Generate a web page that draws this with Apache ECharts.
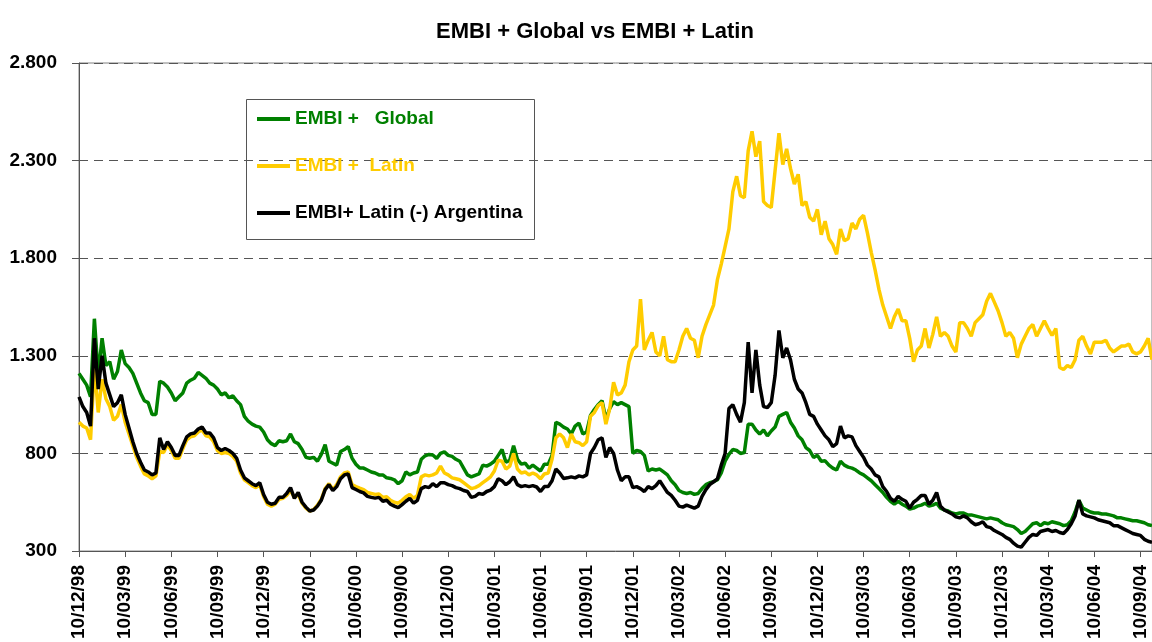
<!DOCTYPE html>
<html>
<head>
<meta charset="utf-8">
<script src="https://cdn.jsdelivr.net/npm/echarts@6/dist/echarts.min.js"></script>
<style>
  html, body { margin: 0; padding: 0; background: #fff; }
  #chart { width: 1152px; height: 642px; }
</style>
</head>
<body>
<div id="chart"></div>
<script>
// quarterly tick labels on the x axis
const tickLabels = [
  '10/12/98', '10/03/99', '10/06/99', '10/09/99', '10/12/99', '10/03/00',
  '10/06/00', '10/09/00', '10/12/00', '10/03/01', '10/06/01', '10/09/01',
  '10/12/01', '10/03/02', '10/06/02', '10/09/02', '10/12/02', '10/03/03',
  '10/06/03', '10/09/03', '10/12/03', '10/03/04', '10/06/04', '10/09/04'
]

// weekly observations: 12 per quarter, last quarter runs 4 weeks past 10/09/04
const categories = []
for (let q = 0; q < tickLabels.length; q++) {
  const weeks = q === tickLabels.length - 1 ? 4 : 12
  for (let w = 0; w < weeks; w++) {
    categories.push(w === 0 ? tickLabels[q] : tickLabels[q] + ' +' + w + 'w')
  }
}

const globalSpread = [
  1210, 1180, 1150, 1090, 1490, 1200, 1390, 1250, 1270, 1180,
  1220, 1330, 1260, 1240, 1210, 1160, 1110, 1070, 1060, 1000,
  1000, 1170, 1160, 1140, 1110, 1070, 1090, 1110, 1160, 1175,
  1185, 1215, 1200, 1185, 1160, 1150, 1130, 1100, 1110, 1085,
  1095, 1070, 1050, 990, 965, 950, 940, 935, 910, 870,
  850, 840, 865, 860, 865, 900, 860, 850, 820, 780,
  775, 780, 760, 795, 845, 760, 750, 740, 810, 820,
  835, 775, 745, 725, 725, 715, 705, 700, 690, 690,
  675, 672, 665, 645, 660, 705, 690, 700, 705, 770,
  788, 795, 792, 775, 800, 808, 790, 785, 770, 760,
  725, 690, 680, 688, 695, 740, 735, 745, 760, 790,
  820, 755, 765, 840, 770, 745, 750, 725, 740, 725,
  710, 745, 745, 790, 960, 950, 935, 925, 900, 940,
  955, 900, 910, 995, 1025, 1050, 1070, 975, 1030, 1065,
  1050, 1060, 1050, 1040, 800, 815, 810, 790, 710, 720,
  715, 720, 705, 690, 660, 640, 610, 600, 595, 600,
  590, 595, 620, 640, 650, 655, 665, 700, 760, 795,
  820, 815, 800, 805, 950, 950, 920, 900, 920, 890,
  915, 935, 990, 1000, 1010, 960, 930, 890, 870, 830,
  815, 780, 790, 760, 762, 740, 725, 715, 760, 740,
  730, 725, 715, 700, 690, 675, 660, 640, 620, 600,
  575, 555, 540, 555, 540, 530, 515, 520, 530, 535,
  545, 530, 535, 545, 520, 510, 505, 495, 490, 495,
  495, 485, 485, 480, 475, 470, 465, 470, 465, 460,
  445, 435, 430, 425, 410, 390, 400, 420, 440, 445,
  430, 445, 440, 450, 445, 440, 430, 435, 455, 500,
  560, 520, 510, 500, 495, 495, 490, 490, 485, 480,
  470, 470, 465, 460, 455, 455, 450, 445, 435, 430
]

const latinSpread = [
  960, 940, 930, 870, 1250, 1010, 1180, 1080, 1040, 970,
  990, 1050, 960, 900, 840, 780, 735, 695, 685, 670,
  685, 810, 805, 845, 815, 775, 775, 825, 870, 885,
  890, 910, 920, 890, 885, 860, 815, 800, 805, 800,
  785, 760, 700, 665, 650, 635, 625, 640, 580, 540,
  530, 540, 565, 570, 585, 610, 575, 590, 545, 520,
  505, 512, 535, 565, 620, 645, 615, 640, 680, 700,
  705, 640, 630, 622, 615, 600, 595, 590, 592, 575,
  578, 560, 550, 545, 560, 578, 590, 570, 585, 680,
  690, 685, 690, 700, 735, 700, 690, 675, 670, 665,
  650, 635, 620, 625, 635, 650, 665, 680, 710, 765,
  760, 720, 735, 800, 720, 700, 705, 690, 700, 690,
  670, 695, 700, 770, 880, 900, 880, 830, 900, 860,
  855, 840, 860, 990, 1010, 1045, 1060, 950, 1030, 1165,
  1100, 1110, 1150, 1270, 1330, 1350, 1590, 1330, 1380, 1420,
  1320, 1300, 1400, 1280, 1270, 1270, 1330, 1400, 1440, 1390,
  1380, 1290, 1400, 1460, 1510, 1560, 1690, 1770, 1860, 1950,
  2140, 2220, 2120, 2110, 2350, 2450, 2320, 2400, 2090, 2070,
  2060, 2250, 2440, 2280, 2360, 2260, 2180, 2230, 2070, 2090,
  2010, 1990, 2050, 1920, 1990, 1900, 1870, 1820, 1950, 1890,
  1900, 1980, 1950, 2000, 2020, 1930, 1830, 1740, 1640, 1560,
  1500, 1440, 1500, 1540, 1480, 1480, 1390, 1270, 1330, 1350,
  1440, 1340, 1410, 1500, 1400, 1420, 1400, 1350, 1320, 1470,
  1470, 1440, 1400, 1470, 1490, 1510, 1580, 1620, 1575, 1530,
  1470, 1400, 1420, 1390, 1290, 1360, 1400, 1440, 1460, 1400,
  1440, 1480, 1440, 1405, 1440, 1240, 1230, 1250, 1240, 1280,
  1380, 1400, 1350, 1310, 1370, 1370, 1370, 1380, 1340, 1320,
  1335, 1350, 1350, 1360, 1320, 1310, 1320, 1350, 1390, 1280
]

const latinExArgSpread = [
  1090, 1040, 1010, 940, 1390, 1130, 1300, 1160, 1100, 1040,
  1060, 1100, 1000, 930, 860, 800, 755, 715, 705, 690,
  700, 880, 820, 860, 830, 790, 790, 840, 885, 900,
  905, 925, 935, 905, 905, 880, 830, 815, 825, 815,
  800, 775, 715, 675, 660, 645, 635, 650, 590, 550,
  540, 545, 575, 575, 595, 625, 570, 600, 550, 525,
  505, 510, 530, 560, 615, 640, 610, 630, 670, 690,
  695, 625, 615, 605, 598, 580, 575, 571, 575, 555,
  560, 540, 530, 522, 538, 555, 570, 545, 560, 620,
  630, 625, 645, 630, 650, 650, 640, 635, 625, 620,
  610, 605, 575, 580, 595, 590, 605, 612, 630, 670,
  660, 640, 655, 680, 640, 630, 635, 630, 635, 628,
  605, 630, 630, 660, 720, 700, 672, 675, 680, 675,
  685, 680, 690, 800, 830, 870, 880, 780, 830, 800,
  715, 660, 680, 680, 625, 630, 620, 605, 630, 620,
  635, 660, 630, 600, 585, 560, 530, 525, 535, 528,
  520, 530, 580, 615, 640, 655, 670, 740, 800, 1030,
  1050, 1000, 960, 1060, 1370, 1110, 1330, 1150, 1040, 1035,
  1060, 1200, 1430, 1290, 1340, 1280, 1180, 1130, 1110, 1060,
  1000, 990, 950, 920, 890, 870, 835, 850, 940, 880,
  890, 885, 840, 810, 780, 740, 720, 690, 680, 630,
  605, 570, 555, 580, 565, 555, 520, 550, 565, 585,
  585, 540, 560, 600, 530, 510, 500, 490, 475, 470,
  480, 470, 450, 435, 440, 450, 425, 420, 405, 395,
  385, 370, 360, 340, 325, 320, 345, 370, 385, 380,
  400, 405, 410, 400, 405, 395, 390, 410, 440, 480,
  560, 490, 480, 475, 470, 460, 455, 450, 445, 430,
  430, 420, 410, 400, 390, 385, 380, 360, 350, 345
]

const FONT = '"Liberation Sans", Arial, sans-serif'

const SERIES = [
  { name: 'EMBI +   Global', data: globalSpread, color: '#008000' },
  { name: 'EMBI +  Latin', data: latinSpread, color: '#FFCC00' },
  { name: 'EMBI+ Latin (-) Argentina', data: latinExArgSpread, color: '#000000' }
]

// 1300 -> "1.300"
function fmtThousands(v) {
  return String(v).replace(/\B(?=(\d{3})+(?!\d))/g, '.')
}

const chart = echarts.init(document.getElementById('chart'))

chart.setOption({
  animation: false,
  backgroundColor: '#fff',
  title: {
    text: 'EMBI + Global vs EMBI + Latin',
    left: 590,
    top: 16,
    textAlign: 'center',
    textStyle: { fontFamily: FONT, fontSize: 22, fontWeight: 'bold', color: '#000' }
  },
  grid: { left: 79, right: 0, top: 63, bottom: 89, show: true, borderColor: '#808080', borderWidth: 1 },
  legend: {
    orient: 'vertical',
    left: 257,
    top: 109,
    padding: 0,
    itemWidth: 33,
    itemHeight: 4,
    itemGap: 27,
    icon: 'rect',
    selectedMode: false,
    textStyle: { fontFamily: FONT, fontSize: 19, fontWeight: 'bold', lineHeight: 20 },
    data: SERIES.map((s) => ({ name: s.name, textStyle: { color: s.color } }))
  },
  graphic: [
    {
      type: 'rect',
      left: 244,
      top: 97,
      shape: { width: 288, height: 140 },
      style: { fill: 'none', stroke: '#555', lineWidth: 1 },
      z: 10
    }
  ],
  xAxis: {
    type: 'category',
    data: categories,
    boundaryGap: false,
    axisLine: { lineStyle: { color: '#555', width: 1 } },
    axisTick: { interval: 11, length: 6, lineStyle: { color: '#555' } },
    axisLabel: {
      interval: 11,
      rotate: 90,
      margin: 14,
      fontFamily: FONT,
      fontSize: 19,
      fontWeight: 'bold',
      color: '#000'
    },
    splitLine: { show: false }
  },
  yAxis: {
    type: 'value',
    min: 300,
    max: 2800,
    interval: 500,
    axisLine: { show: true, lineStyle: { color: '#555', width: 1 } },
    axisTick: { show: true, length: 7, lineStyle: { color: '#555' } },
    axisLabel: {
      margin: 22,
      fontFamily: FONT,
      fontSize: 19,
      fontWeight: 'bold',
      color: '#000',
      formatter: fmtThousands
    },
    splitLine: { show: true, lineStyle: { color: '#555', type: [9, 6], width: 1 } }
  },
  series: SERIES.map((s) => ({
    name: s.name,
    type: 'line',
    data: s.data,
    showSymbol: false,
    symbol: 'none',
    itemStyle: { color: s.color },
    lineStyle: { color: s.color, width: 3.5 }
  }))
})
</script>
</body>
</html>
